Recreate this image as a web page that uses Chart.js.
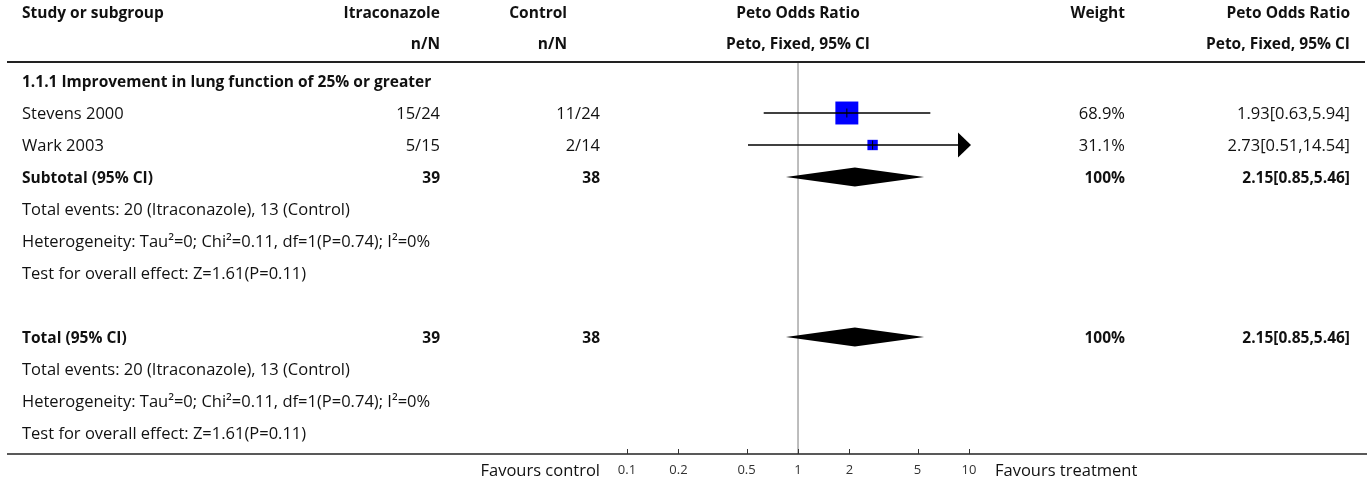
<!DOCTYPE html>
<html>
<head>
<meta charset="utf-8">
<script src="https://cdn.jsdelivr.net/npm/chart.js@4/dist/chart.umd.min.js"></script>
<style>
  html, body { margin: 0; padding: 0; background: #fff; }
  #wrap { width: 1370px; height: 485px; position: relative; }
</style>
</head>
<body>
<div id="wrap"><canvas id="c"></canvas></div>
<script>
// ---------- data ----------
const rowLabels = [
  "1.1.1 Improvement in lung function of 25% or greater",
  "Stevens 2000",
  "Wark 2003",
  "Subtotal (95% CI)",
  "Total events: 20 (Itraconazole), 13 (Control)",
  "Heterogeneity: Tau\u00B2=0; Chi\u00B2=0.11, df=1(P=0.74); I\u00B2=0%",
  "Test for overall effect: Z=1.61(P=0.11)",
  "",
  "Total (95% CI)",
  "Total events: 20 (Itraconazole), 13 (Control)",
  "Heterogeneity: Tau\u00B2=0; Chi\u00B2=0.11, df=1(P=0.74); I\u00B2=0%",
  "Test for overall effect: Z=1.61(P=0.11)"
];
const rowBold = [true, false, false, true, false, false, false, false, true, false, false, false];
const itraText = ["", "15/24", "5/15", "39", "", "", "", "", "39", "", "", ""];
const controlText = ["", "11/24", "2/14", "38", "", "", "", "", "38", "", "", ""];
const weightText = ["", "68.9%", "31.1%", "100%", "", "", "", "", "100%", "", "", ""];
const effectText = ["", "1.93[0.63,5.94]", "2.73[0.51,14.54]", "2.15[0.85,5.46]", "", "", "", "", "2.15[0.85,5.46]", "", "", ""];

const studyRows = [1, 2];
const studyOR = [1.93, 2.73];
const studyLo = [0.63, 0.51];
const studyHi = [5.94, 14.54];
const studyWeight = [68.9, 31.1];

const pooledRows = [3, 8];
const pooledOR = [2.15, 2.15];
const pooledLo = [0.85, 0.85];
const pooledHi = [5.46, 5.46];

const xTicks = [0.1, 0.2, 0.5, 1, 2, 5, 10];
const headerLine1 = ["Study or subgroup", "Itraconazole", "Control", "Peto Odds Ratio", "Weight", "Peto Odds Ratio"];
const headerLine2 = ["", "n/N", "n/N", "Peto, Fixed, 95% CI", "", "Peto, Fixed, 95% CI"];
const favoursLeft = "Favours control";
const favoursRight = "Favours treatment";

// ---------- styling ----------
const FONT = "'Open Sans', 'Noto Sans', sans-serif";
const FS = 16.5;
const FSB = 15.5;
const TXT = "#111";
const DY = 1.5;

const forestPlugin = {
  id: 'forest',
  beforeDatasetsDraw(chart) {
    const ctx = chart.ctx, xs = chart.scales.x, ca = chart.chartArea;
    ctx.save();
    const x1 = xs.getPixelForValue(1);
    ctx.strokeStyle = '#a8a8a8';
    ctx.lineWidth = 1.5;
    ctx.beginPath(); ctx.moveTo(x1, ca.top); ctx.lineTo(x1, ca.bottom); ctx.stroke();
    ctx.restore();
  },
  afterDatasetsDraw(chart) {
    const ctx = chart.ctx, xs = chart.scales.x, ys = chart.scales.y, ca = chart.chartArea;
    ctx.save();
    ctx.strokeStyle = '#000';
    ctx.fillStyle = '#000';
    studyRows.forEach((r, i) => {
      const y = ys.getPixelForValue(r);
      const lo = Math.max(studyLo[i], xs.min), hi = Math.min(studyHi[i], xs.max);
      const xl = xs.getPixelForValue(lo);
      let xr = xs.getPixelForValue(hi);
      const arrow = studyHi[i] > xs.max;
      if (arrow) xr = ca.right - 15;
      ctx.lineWidth = 1.5;
      ctx.beginPath(); ctx.moveTo(xl, y); ctx.lineTo(xr, y); ctx.stroke();
      if (arrow) {
        ctx.beginPath();
        ctx.moveTo(ca.right - 15, y - 12.5);
        ctx.lineTo(ca.right - 2, y);
        ctx.lineTo(ca.right - 15, y + 12.5);
        ctx.closePath(); ctx.fill();
      }
      const xp = xs.getPixelForValue(studyOR[i]);
      ctx.lineWidth = 1;
      ctx.beginPath(); ctx.moveTo(xp, y - 4.5); ctx.lineTo(xp, y + 4.5); ctx.stroke();
    });
    pooledRows.forEach((r, i) => {
      const y = ys.getPixelForValue(r);
      const xl = xs.getPixelForValue(pooledLo[i]);
      const xm = xs.getPixelForValue(pooledOR[i]);
      const xr = xs.getPixelForValue(pooledHi[i]);
      ctx.beginPath();
      ctx.moveTo(xl, y); ctx.lineTo(xm, y - 9.5); ctx.lineTo(xr, y); ctx.lineTo(xm, y + 9.5);
      ctx.closePath(); ctx.fill();
    });
    ctx.restore();
  },
  afterDraw(chart) {
    const ctx = chart.ctx, xs = chart.scales.x, ys = chart.scales.y, ca = chart.chartArea;
    ctx.save();
    ctx.textBaseline = 'middle';
    ctx.fillStyle = TXT;
    ctx.font = `bold ${FSB}px ${FONT}`;
    const hx = [22, 440, 567, 798, 1125, 1350];
    const ha = ['left', 'right', 'right', 'center', 'right', 'right'];
    headerLine1.forEach((t, i) => { ctx.textAlign = ha[i]; ctx.fillText(t, hx[i], 12 + DY); });
    headerLine2.forEach((t, i) => { ctx.textAlign = ha[i]; ctx.fillText(t, hx[i], 43 + DY); });
    ctx.strokeStyle = '#222';
    ctx.lineWidth = 2;
    ctx.beginPath(); ctx.moveTo(7, ca.top); ctx.lineTo(1365, ca.top); ctx.stroke();
    rowLabels.forEach((t, i) => {
      const y = ys.getPixelForValue(i) + DY;
      ctx.font = rowBold[i] ? `bold ${FSB}px ${FONT}` : `${FS}px ${FONT}`;
      ctx.textAlign = 'left'; ctx.fillText(t, 22, y);
      ctx.textAlign = 'right';
      ctx.fillText(itraText[i], 440, y);
      ctx.fillText(controlText[i], 600, y);
      ctx.fillText(weightText[i], 1125, y);
      ctx.fillText(effectText[i], 1350, y);
    });
    ctx.strokeStyle = '#222';
    ctx.lineWidth = 1.5;
    ctx.beginPath(); ctx.moveTo(7, ca.bottom); ctx.lineTo(1367, ca.bottom); ctx.stroke();
    ctx.lineWidth = 1;
    ctx.strokeStyle = '#333';
    xTicks.forEach(v => {
      const x = Math.round(xs.getPixelForValue(v)) + 0.5;
      ctx.beginPath(); ctx.moveTo(x, ca.bottom - 5); ctx.lineTo(x, ca.bottom); ctx.stroke();
    });
    ctx.font = `${FS}px ${FONT}`;
    ctx.fillStyle = TXT;
    ctx.textAlign = 'right'; ctx.fillText(favoursLeft, 600, 471);
    ctx.textAlign = 'left'; ctx.fillText(favoursRight, 995, 471);
    ctx.restore();
  }
};

new Chart(document.getElementById('c'), {
  type: 'scatter',
  data: {
    datasets: [{
      data: studyOR.map((v, i) => ({ x: v, y: studyRows[i] })),
      pointStyle: 'rect',
      pointRadius: (c) => studyWeight[c.dataIndex] * 0.2355,
      backgroundColor: '#0000ff',
      borderColor: '#0000ff',
      borderWidth: 0
    }]
  },
  options: {
    responsive: true,
    maintainAspectRatio: false,
    animation: false,
    events: [],
    layout: { padding: { left: 617, right: 397, top: 62, bottom: 0 } },
    plugins: { legend: { display: false }, tooltip: { enabled: false } },
    scales: {
      x: {
        type: 'logarithmic',
        min: 0.0874,
        max: 10.55,
        grid: { display: false, drawTicks: false },
        border: { display: false },
        afterBuildTicks: (s) => { s.ticks = xTicks.map(v => ({ value: v })); },
        afterFit: (s) => { s.height = 31; },
        ticks: {
          autoSkip: false, maxRotation: 0, padding: 8,
          color: '#333',
          font: { family: FONT, size: 13 },
          callback: (v) => String(v)
        }
      },
      y: {
        type: 'linear',
        display: false,
        reverse: true,
        min: -0.59375,
        max: 11.65625
      }
    }
  },
  plugins: [forestPlugin]
});
</script>
</body>
</html>
